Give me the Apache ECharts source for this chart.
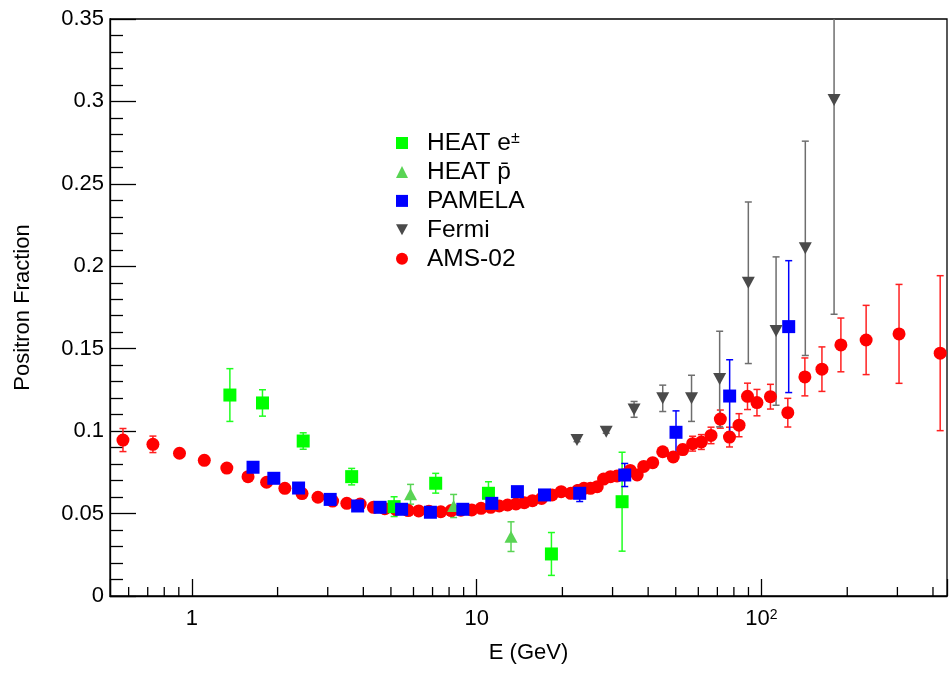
<!DOCTYPE html>
<html><head><meta charset="utf-8">
<script src="https://cdn.jsdelivr.net/npm/echarts@6/dist/echarts.min.js"></script>
<style>html,body{margin:0;padding:0;background:#fff}#c{width:950px;height:673px}</style>
</head><body><div id="c"></div>
<script>
// ---- axis ticks ----
const xMinorTicks = [0.6,0.7,0.8,0.9,2,3,4,5,6,7,8,9,20,30,40,50,60,70,80,90,200,300,400];

// ---- HEAT e± ----
const heatEX   = [1.36, 1.77, 2.46, 3.64, 5.13, 7.18, 11.0, 18.3, 32.4];
const heatEY   = [0.1219, 0.1171, 0.0940, 0.0724, 0.0542, 0.0684, 0.0623, 0.0255, 0.0572];
const heatEErr = [0.016, 0.008, 0.005, 0.005, 0.006, 0.006, 0.007, 0.013, 0.030];

// ---- HEAT pbar ----
const heatPX   = [5.86, 8.30, 13.2];
const heatPY   = [0.0617, 0.0546, 0.0360];
const heatPErr = [0.006, 0.007, 0.009];

// ---- PAMELA ----
const pamelaX   = [1.64, 1.94, 2.37, 3.06, 3.82, 4.58, 5.45, 6.88, 8.94, 11.3, 13.9, 17.3, 23.0, 33.1, 50.1, 77.3, 124.6];
const pamelaY   = [0.0781, 0.0714, 0.0655, 0.0586, 0.0546, 0.0538, 0.0526, 0.0508, 0.0526, 0.0562, 0.0633, 0.0613, 0.0623, 0.0734, 0.0993, 0.1213, 0.1634];
const pamelaErr = [0.001, 0.001, 0.001, 0.001, 0.001, 0.001, 0.001, 0.001, 0.001, 0.001, 0.002, 0.002, 0.005, 0.007, 0.013, 0.022, 0.040];

// ---- Fermi ----
const fermiX   = [22.5, 28.5, 35.7, 45.0, 56.8, 71.3, 89.9, 112.5, 142.5, 179.8];
const fermiY   = [0.0946, 0.0997, 0.1132, 0.1199, 0.1199, 0.1316, 0.190, 0.1607, 0.2109, 0.3009];
const fermiErr = [0.001, 0.001, 0.0048, 0.008, 0.014, 0.029, 0.049, 0.045, 0.065, 0.13];

// ---- AMS-02 ----
const amsX = [0.573, 0.730, 0.905, 1.106, 1.327, 1.575, 1.830, 2.121, 2.437, 2.772, 3.12, 3.50, 3.90, 4.34, 4.76, 5.2, 5.75, 6.26, 6.8, 7.48, 8.14, 8.8, 9.61, 10.36, 11.2, 12.0, 12.84, 13.74, 14.69, 15.7, 16.9, 18.4, 19.8, 21.4, 22.6, 23.8, 25.1, 26.5, 27.9, 29.5, 31.1, 32.9, 34.6, 36.6, 38.6, 41.5, 45.0, 49.0, 52.9, 57.3, 61.5, 66.5, 71.7, 77.2, 83.4, 89.3, 96.4, 107.5, 123.7, 142, 163, 190, 233, 304, 424];
const amsY = [0.0946, 0.0920, 0.0866, 0.0823, 0.0776, 0.0724, 0.0690, 0.0653, 0.0621, 0.0599, 0.0576, 0.0562, 0.0558, 0.0538, 0.0530, 0.0525, 0.0518, 0.0516, 0.0514, 0.0511, 0.0518, 0.0520, 0.0522, 0.0532, 0.0538, 0.0546, 0.0552, 0.0558, 0.0566, 0.0578, 0.0592, 0.0613, 0.0633, 0.0623, 0.0640, 0.0653, 0.0653, 0.0663, 0.0709, 0.0724, 0.0728, 0.0735, 0.0762, 0.0734, 0.0786, 0.0809, 0.0875, 0.0843, 0.0888, 0.0924, 0.0934, 0.0974, 0.1073, 0.0964, 0.1036, 0.1211, 0.1173, 0.1209, 0.1112, 0.1329, 0.1376, 0.1523, 0.1553, 0.1590, 0.1473];
const amsErr = [0.007, 0.005, 0.0015, 0.0015, 0.0015, 0.0015, 0.0015, 0.0015, 0.0015, 0.0015, 0.0015, 0.0015, 0.0015, 0.0015, 0.0015, 0.0015, 0.0015, 0.0015, 0.0015, 0.0015, 0.0015, 0.0015, 0.0015, 0.0015, 0.0015, 0.0015, 0.0015, 0.0015, 0.0015, 0.0015, 0.0015, 0.0015, 0.0015, 0.0015, 0.0015, 0.0015, 0.0015, 0.0015, 0.0015, 0.0015, 0.0015, 0.0015, 0.0015, 0.0015, 0.0015, 0.002, 0.002, 0.0025, 0.003, 0.0045, 0.0045, 0.005, 0.0055, 0.006, 0.007, 0.008, 0.008, 0.0075, 0.0087, 0.0115, 0.0135, 0.0163, 0.021, 0.030, 0.047];

const FONT = '"Liberation Sans", Arial, Helvetica, sans-serif';
const DOWN_TRI = 'path://M0,0L12,0L6,11Z';

function pts(x, y) { return x.map((v, i) => [v, y[i]]); }
function errs(x, y, e) { return x.map((v, i) => [v, y[i] - e[i], y[i] + e[i]]); }

function errRender(color, width) {
  return function (params, api) {
    const x = api.value(0);
    const pLo = api.coord([x, api.value(1)]);
    const pHi = api.coord([x, api.value(2)]);
    const cs = params.coordSys;
    const top = cs.y, bot = cs.y + cs.height;
    const yHi = Math.max(pHi[1], top), yLo = Math.min(pLo[1], bot);
    const cap = 3.5;
    const st = { stroke: color, lineWidth: width };
    const ch = [{ type: 'line', shape: { x1: pLo[0], y1: yLo, x2: pLo[0], y2: yHi }, style: st }];
    if (pHi[1] >= top) ch.push({ type: 'line', shape: { x1: pLo[0] - cap, y1: pHi[1], x2: pLo[0] + cap, y2: pHi[1] }, style: st });
    if (pLo[1] <= bot) ch.push({ type: 'line', shape: { x1: pLo[0] - cap, y1: pLo[1], x2: pLo[0] + cap, y2: pLo[1] }, style: st });
    return { type: 'group', children: ch };
  };
}
function errSeries(name, x, y, e, color, width) {
  return { type: 'custom', name: name, data: errs(x, y, e), encode: { x: 0, y: [1, 2] },
           renderItem: errRender(color, width), silent: true };
}
function scat(name, x, y, symbol, size, color) {
  return { type: 'scatter', name: name, data: pts(x, y), symbol: symbol, symbolSize: size,
           itemStyle: { color: color, opacity: 1 }, silent: true };
}

const chart = echarts.init(document.getElementById('c'), null, { renderer: 'canvas' });
chart.setOption({
  animation: false,
  backgroundColor: '#fff',
  textStyle: { fontFamily: FONT },
  grid: { left: 110, top: 19, width: 842, height: 577, show: true, borderColor: '#000', borderWidth: 1.3, backgroundColor: 'transparent' },
  legend: {
    orient: 'vertical', left: 391, top: 125.5, itemWidth: 12, itemHeight: 12, itemGap: 3.95,
    selectedMode: false,
    data: [
      { name: 'HEAT e±', icon: 'rect' },
      { name: 'HEAT p\u0304', icon: 'triangle' },
      { name: 'PAMELA', icon: 'rect' },
      { name: 'Fermi', icon: DOWN_TRI },
      { name: 'AMS-02', icon: 'circle' }
    ],
    formatter: n => '{sp|}' + (n === 'HEAT e±' ? 'HEAT e{sup|±}' : n),
    textStyle: { fontSize: 24.5, color: '#000', fontFamily: FONT, lineHeight: 24,
      rich: {
        sp: { width: 14, height: 10 },
        sup: { fontSize: 16, lineHeight: 15, verticalAlign: 'top', fontFamily: FONT, color: '#000' }
      } }
  },
  xAxis: {
    type: 'log', logBase: 10, min: 0.516, max: 448,
    axisLine: { show: true, onZero: false, lineStyle: { color: '#000', width: 1.3 } },
    axisTick: { show: true, inside: true, length: 17, lineStyle: { color: '#000', width: 1.3 } },
    minorTick: { show: false }, splitLine: { show: false }, minorSplitLine: { show: false },
    axisLabel: {
      margin: 12, fontSize: 22, color: '#000', fontFamily: FONT, showMinLabel: true, showMaxLabel: true,
      formatter: function (v) {
        const l = Math.log10(v), r = Math.round(l);
        if (Math.abs(l - r) > 1e-6) return '';
        if (r === 0) return '1';
        if (r === 1) return '10';
        return '10{s|' + r + '}';
      },
      rich: { s: { fontSize: 14, lineHeight: 14, verticalAlign: 'top', color: '#000', fontFamily: FONT } }
    },
    name: 'E (GeV)', nameLocation: 'middle', nameGap: 46,
    nameTextStyle: { fontSize: 22, color: '#000', fontFamily: FONT }
  },
  yAxis: {
    type: 'value', min: 0, max: 0.35, interval: 0.05,
    axisLine: { show: true, lineStyle: { color: '#000', width: 1.3 } },
    axisTick: { show: true, inside: true, length: 26, lineStyle: { color: '#000', width: 1.3 } },
    minorTick: { show: true, splitNumber: 5, length: 13, lineStyle: { color: '#000', width: 1.3 } },
    splitLine: { show: false }, minorSplitLine: { show: false },
    axisLabel: { margin: 6, fontSize: 22, color: '#000', fontFamily: FONT, padding: [5, 0, 0, 0] },
    name: 'Positron Fraction', nameLocation: 'middle', nameGap: 76, nameRotate: 90,
    nameTextStyle: { fontSize: 22, color: '#000', fontFamily: FONT }
  },
  series: [
    errSeries('ams-err', amsX, amsY, amsErr, '#ff2020', 1.5),
    scat('AMS-02', amsX, amsY, 'circle', 13, '#ff0000'),
    errSeries('heatE-err', heatEX, heatEY, heatEErr, '#20ff20', 1.5),
    scat('HEAT e±', heatEX, heatEY, 'rect', 13, '#00ff00'),
    errSeries('heatP-err', heatPX, heatPY, heatPErr, '#59d454', 1.5),
    scat('HEAT p\u0304', heatPX, heatPY, 'triangle', [13, 12], '#59d454'),
    errSeries('pamela-err', pamelaX, pamelaY, pamelaErr, '#0000ff', 1.5),
    scat('PAMELA', pamelaX, pamelaY, 'rect', 13, '#0000ff'),
    errSeries('fermi-err', fermiX, fermiY, fermiErr, '#6e6e6e', 1.5),
    scat('Fermi', fermiX, fermiY, DOWN_TRI, [13, 12], '#4a4a4a'),
    {
      type: 'custom', name: 'x-minor-ticks', silent: true, z: 5,
      data: xMinorTicks.map(v => [v]), encode: { x: 0 },
      renderItem: function (params, api) {
        const cs = params.coordSys;
        const px = api.coord([api.value(0), 0])[0];
        const yb = cs.y + cs.height;
        return { type: 'line', shape: { x1: px, y1: yb, x2: px, y2: yb - 9 }, style: { stroke: '#000', lineWidth: 1.3 } };
      }
    }
  ]
});
</script>
</body></html>
